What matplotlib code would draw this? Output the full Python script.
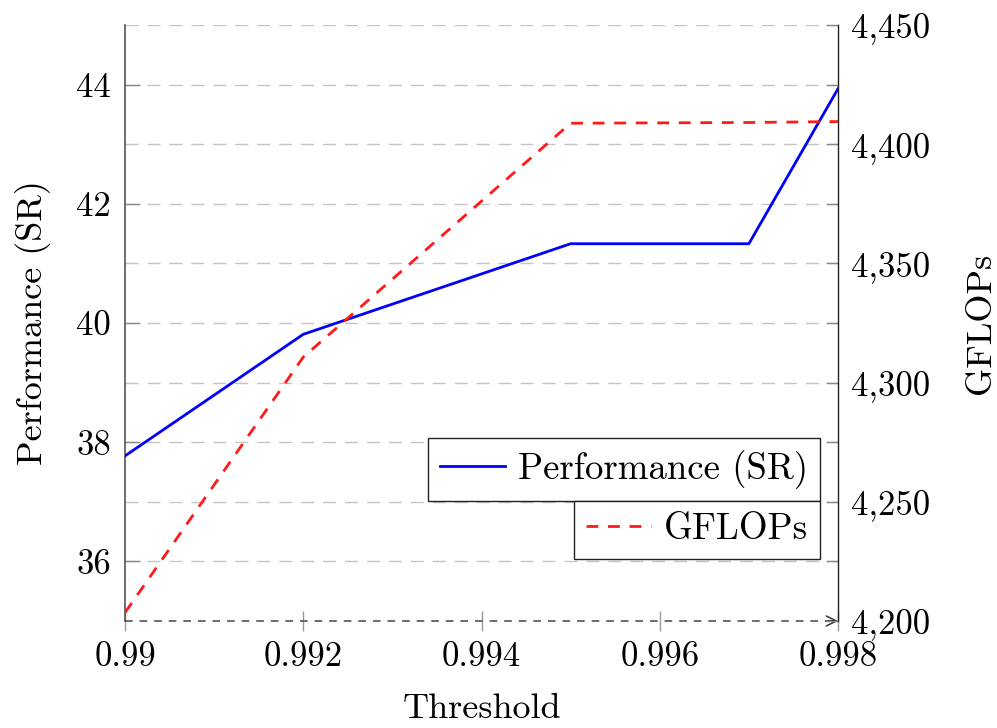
import matplotlib
matplotlib.use("Agg")
import matplotlib.pyplot as plt
from matplotlib.ticker import FixedLocator, FixedFormatter, MultipleLocator

# Data
thresholds = [0.99, 0.992, 0.995, 0.997, 0.998]
performance_sr = [37.77, 39.81, 41.33, 41.33, 43.93]
gflops = [4203.5, 4310.7, 4408.8, 4409.1, 4409.5]

x_ticks = [0.99, 0.992, 0.994, 0.996, 0.998]
x_tick_labels = ["0.99", "0.992", "0.994", "0.996", "0.998"]
left_ticks = [36, 38, 40, 42, 44]
right_ticks = [4200, 4250, 4300, 4350, 4400, 4450]
right_tick_labels = ["4,200", "4,250", "4,300", "4,350", "4,400", "4,450"]

plt.rcParams.update({
    "font.family": "serif",
    "font.serif": ["cmr10", "DejaVu Serif"],
    "axes.formatter.use_mathtext": True,
    "lines.scale_dashes": False,
    "font.size": 25,
})

W, H = 997, 728
fig = plt.figure(figsize=(W / 100, H / 100), dpi=100)
L, R, T, B = 125, 838, 25, 621
ax = fig.add_axes([L / W, (H - B) / H, (R - L) / W, (B - T) / H])
ax2 = ax.twinx()

ax.set_xlim(0.99, 0.998)
ax.set_ylim(35, 45)
ax2.set_ylim(4200, 4450)

# grid (every unit on left axis)
for yv in range(36, 46):
    ax.axhline(yv, color="#c4c4c4", lw=1.0, linestyle=(0, (9.4, 6.4)), zorder=0)

grey = "#555555"
# spines
ax.spines["top"].set_visible(False)
ax2.spines["top"].set_visible(False)
ax.spines["right"].set_visible(False)
ax2.spines["left"].set_visible(False)
ax2.spines["bottom"].set_visible(False)
ax.spines["left"].set_color(grey)
ax.spines["left"].set_linewidth(1.2)
ax2.spines["right"].set_color("#222222")
ax2.spines["right"].set_linewidth(1.0)
ax.spines["bottom"].set_visible(False)

# dashed bottom axis with arrow
ax.plot([0.99, 0.998], [35, 35], color="#444444", lw=1.1, linestyle=(0, (5.5, 5.0)),
        clip_on=False, zorder=3)
ax.annotate("", xy=(1.0, 0.0), xytext=(0.985, 0.0), xycoords="axes fraction",
            arrowprops=dict(arrowstyle="->", color="#333333", lw=1.1,
                            mutation_scale=18, shrinkA=0, shrinkB=0))

# ticks
ax.xaxis.set_major_locator(FixedLocator(x_ticks))
ax.xaxis.set_major_formatter(FixedFormatter(x_tick_labels))
ax.tick_params(axis="x", direction="inout", length=14, width=1.0, color="#999999",
               pad=8, labelsize=25)
ax.yaxis.set_major_locator(FixedLocator(left_ticks))
ax.yaxis.set_major_formatter(FixedFormatter([str(v) for v in left_ticks]))
ax.tick_params(axis="y", direction="in", length=11, width=1.0, color="#888888",
               pad=10, labelsize=25)
ax2.yaxis.set_major_locator(FixedLocator(right_ticks))
ax2.yaxis.set_major_formatter(FixedFormatter(right_tick_labels))
ax2.yaxis.set_minor_locator(MultipleLocator(25))
ax2.tick_params(axis="y", which="both", direction="in", length=9, width=1.0,
                color="#888888", pad=9, labelsize=25)

# lines
l1, = ax.plot(thresholds, performance_sr, color="#0000ff", lw=2.0,
              label="Performance (SR)", zorder=5)
l2, = ax2.plot(thresholds, gflops, color="#ff1a1a", lw=2.0,
               linestyle=(0, (8.5, 7.0)), label="GFLOPs", zorder=5)

ax.set_xlabel("Threshold", fontsize=26, labelpad=14)
ax.set_ylabel("Performance (SR)", fontsize=26, labelpad=18)
ax2.set_ylabel("GFLOPs", fontsize=26, labelpad=26)

legkw = dict(fancybox=False, framealpha=1, edgecolor="#222222", fontsize=26.5,
             handlelength=1.75, handletextpad=0.35, borderpad=0.33, borderaxespad=0)
leg1 = ax2.legend(handles=[l1], loc="upper right",
                  bbox_to_anchor=(820 / W, (H - 438) / H),
                  bbox_transform=fig.transFigure, **legkw)
leg1.get_frame().set_linewidth(1.0)
ax2.add_artist(leg1)
leg2 = ax2.legend(handles=[l2], loc="upper right",
                  bbox_to_anchor=(820 / W, (H - 501) / H),
                  bbox_transform=fig.transFigure, **legkw)
leg2.get_frame().set_linewidth(1.0)

fig.savefig("out.png", dpi=100)
